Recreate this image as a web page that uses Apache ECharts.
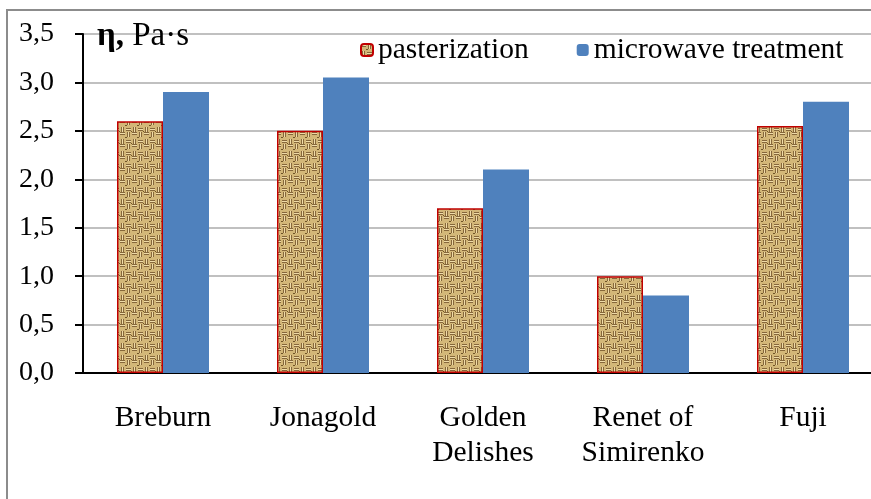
<!DOCTYPE html>
<html>
<head>
<meta charset="utf-8">
<script src="https://cdn.jsdelivr.net/npm/echarts@6/dist/echarts.min.js"></script>
<style>
  html, body { margin: 0; padding: 0; background: #ffffff; overflow: hidden; width: 871px; height: 499px; }
  #chart { width: 900px; height: 499px; }
</style>
</head>
<body>
<div id="chart"></div>
<script>
// Apple varieties and dynamic viscosity of the juice, Pa·s
const categories = ['Breburn', 'Jonagold', 'Golden\nDelishes', 'Renet of\nSimirenko', 'Fuji'];
const pasterization = [2.6, 2.5, 1.7, 1.0, 2.55];
const microwave = [2.9, 3.05, 2.1, 0.8, 2.8];
const seriesNames = ['pasterization', 'microwave treatment'];
const yTicks = [0, 0.5, 1.0, 1.5, 2.0, 2.5, 3.0, 3.5];

// Burlap-like woven fill for the pasterization bars
function makeBurlap() {
  const c = document.createElement('canvas');
  c.width = 12; c.height = 12;
  const g = c.getContext('2d');
  g.fillStyle = '#d3b778';
  g.fillRect(0, 0, 12, 12);
  g.fillStyle = '#86673a';
  // basket weave: alternating horizontal and vertical short strands
  g.fillRect(0, 0, 5, 1);
  g.fillRect(0, 2, 5, 1);
  g.fillRect(7, 0, 1, 5);
  g.fillRect(9, 0, 1, 5);
  g.fillRect(1, 7, 1, 5);
  g.fillRect(3, 7, 1, 5);
  g.fillRect(6, 8, 5, 1);
  g.fillRect(6, 10, 5, 1);
  g.fillStyle = '#f0dca8';
  g.fillRect(0, 1, 5, 1);
  g.fillRect(8, 0, 1, 5);
  g.fillRect(2, 7, 1, 5);
  g.fillRect(6, 9, 5, 1);
  g.fillStyle = '#6e5327';
  g.fillRect(5, 5, 2, 1);
  g.fillRect(11, 11, 1, 1);
  return c;
}
const burlap = makeBurlap();

const serif = '"Liberation Serif", "DejaVu Serif", serif';
const chart = echarts.init(document.getElementById('chart'), null, { renderer: 'canvas' });

chart.setOption({
  animation: false,
  textStyle: { fontFamily: serif },
  graphic: [
    {
      type: 'rect',
      shape: { x: 7, y: 10, width: 950, height: 560 },
      style: { fill: 'none', stroke: '#8c8c8c', lineWidth: 2 },
      z: -1
    },
    {
      type: 'text',
      x: 97,
      y: 36,
      style: {
        text: '{b|η,} Pa·s',
        rich: {
          b: { fontFamily: serif, fontWeight: 'bold', fontSize: 33, fill: '#000' }
        },
        fontFamily: serif,
        fontSize: 33,
        fill: '#000',
        verticalAlign: 'middle'
      },
      z: 10
    }
  ],
  legend: {
    top: 30,
    left: 355,
    itemWidth: 12,
    itemHeight: 12,
    itemGap: 48,
    textStyle: { fontFamily: serif, fontSize: 29.5, color: '#000' },
    data: seriesNames
  },
  grid: {
    left: 83,
    top: 34,
    width: 800,
    height: 339,
    containLabel: false
  },
  xAxis: {
    type: 'category',
    data: categories,
    axisLine: { lineStyle: { color: '#000', width: 2 } },
    axisTick: { length: 9, lineStyle: { color: '#000', width: 2 } },
    axisLabel: {
      margin: 28,
      fontFamily: serif,
      fontSize: 29.5,
      lineHeight: 35,
      color: '#000'
    }
  },
  yAxis: {
    type: 'value',
    min: yTicks[0],
    max: yTicks[yTicks.length - 1],
    interval: 0.5,
    axisLine: { show: true, lineStyle: { color: '#000', width: 2 } },
    axisTick: { show: true, length: 8, lineStyle: { color: '#000', width: 2 } },
    splitLine: { lineStyle: { color: '#ababab', width: 1.5 } },
    axisLabel: {
      margin: 29,
      fontFamily: serif,
      fontSize: 28,
      color: '#000',
      formatter: v => v.toFixed(1).replace('.', ',')
    }
  },
  series: [
    {
      name: seriesNames[0],
      type: 'bar',
      data: pasterization,
      barWidth: 46,
      barGap: '0%',
      itemStyle: {
        color: { image: burlap, repeat: 'repeat' },
        borderColor: '#c00000',
        borderWidth: 1.5
      }
    },
    {
      name: seriesNames[1],
      type: 'bar',
      data: microwave,
      barWidth: 46,
      itemStyle: { color: '#4f81bd' }
    }
  ]
});
</script>
</body>
</html>
